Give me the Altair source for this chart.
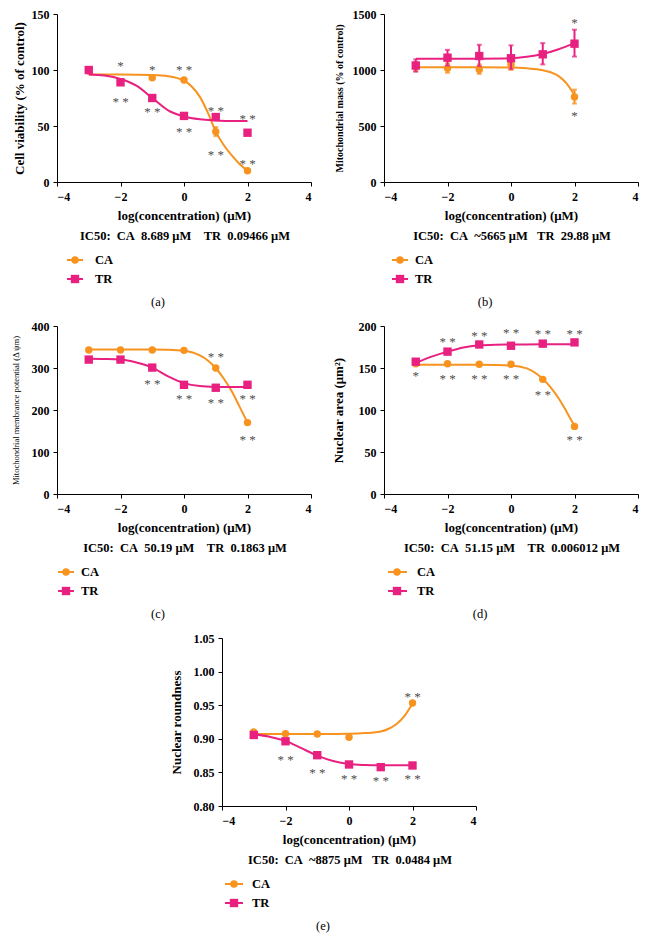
import altair as alt
import pandas as pd

ORANGE = "#F7931E"
PINK = "#E8207F"
STAR = "#4d4d4d"
FONT = "Liberation Serif"
NB = "\u00a0"

X_TICKS = [-4, -2, 0, 2, 4]

# ---------------- panel (a) cell viability ----------------
A_CA_X = [-3, -1, 0, 1, 2]
A_CA_Y = [99, 93, 91, 45, 10]
A_CA_LO = [None, None, None, 41, None]
A_CA_HI = [None, None, None, 49, None]
A_TR_X = [-3, -2, -1, 0, 1, 2]
A_TR_Y = [100, 89, 75, 59, 58, 44]
A_CAC_X = [-3, -2, -1, -0.5, 0, 0.25, 0.5, 0.75, 1, 1.25, 1.5, 1.75, 2]
A_CAC_Y = [96, 96, 95.5, 94.5, 90.5, 85, 76, 62, 45, 33, 24, 16, 10]
A_TRC_X = [-3, -2.5, -2, -1.5, -1, -0.5, 0, 0.5, 1, 1.5, 2]
A_TRC_Y = [96, 95, 92, 86, 75, 64, 58.5, 56, 55, 54.5, 54.5]
A_STAR_X = [-2, -2, -1, -1, 0, 0, 1, 1, 2, 2]
A_STAR_Y = [106, 74, 103, 65, 103, 47, 66, 27, 59, 19]
A_STAR_T = ["*", "* *", "*", "* *", "* *", "* *", "* *", "* *", "* *", "* *"]

# ---------------- panel (b) mitochondrial mass ----------------
B_CA_X = [-3, -2, -1, 0, 2]
B_CA_Y = [1030, 1015, 1005, 1050, 760]
B_CA_LO = [990, 975, 965, 1000, 700]
B_CA_HI = [1070, 1060, 1050, 1095, 825]
B_TR_X = [-3, -2, -1, 0, 1, 2]
B_TR_Y = [1040, 1110, 1125, 1105, 1140, 1235]
B_TR_LO = [985, 1040, 1035, 1010, 1050, 1120]
B_TR_HI = [1095, 1180, 1225, 1220, 1240, 1360]
B_CAC_X = [-3, -2, -1, 0, 0.5, 1, 1.25, 1.5, 1.75, 2]
B_CAC_Y = [1025, 1025, 1025, 1022, 1015, 998, 980, 945, 880, 775]
B_TRC_X = [-3, -2, -1, 0, 0.5, 1, 1.5, 2]
B_TRC_Y = [1100, 1100, 1101, 1105, 1118, 1143, 1185, 1240]
B_STAR_X = [2, 2]
B_STAR_Y = [1447, 612]
B_STAR_T = ["*", "*"]

# ---------------- panel (c) mitochondrial membrane potential ----------------
C_CA_X = [-3, -2, -1, 0, 1, 2]
C_CA_Y = [343, 343, 343, 342, 300, 170]
C_TR_X = [-3, -2, -1, 0, 1, 2]
C_TR_Y = [320, 320, 301, 260, 253, 260]
C_CAC_X = [-3, -2, -1, -0.5, 0, 0.5, 0.75, 1, 1.25, 1.5, 1.75, 2]
C_CAC_Y = [344, 344, 344, 343.5, 341, 330, 318, 300, 275, 245, 208, 170]
C_TRC_X = [-3, -2.5, -2, -1.5, -1, -0.5, 0, 0.5, 1, 1.5, 2]
C_TRC_Y = [322, 321.5, 320, 313, 301, 280, 264, 257, 255, 254.5, 254.5]
C_STAR_X = [-1, 0, 1, 1, 2, 2]
C_STAR_Y = [270, 233, 334, 225, 233, 136]
C_STAR_T = ["* *"] * 6

# ---------------- panel (d) nuclear area ----------------
D_CA_X = [-3, -2, -1, 0, 1, 2]
D_CA_Y = [155, 155, 154.5, 154.5, 136.5, 80.5]
D_TR_X = [-3, -2, -1, 0, 1, 2]
D_TR_Y = [157.5, 169.5, 178, 176.5, 179, 180.5]
D_CAC_X = [-3, -2, -1, 0, 0.5, 1, 1.25, 1.5, 1.75, 2]
D_CAC_Y = [154, 154, 153.8, 153, 149.5, 137, 127, 114, 98, 81]
D_TRC_X = [-3, -2.5, -2, -1.5, -1, -0.5, 0, 1, 2]
D_TRC_Y = [156, 163.5, 169.5, 174.5, 177, 177.8, 178, 178.2, 178.3]
D_STAR_X = [-3, -2, -2, -1, -1, 0, 0, 1, 1, 2, 2]
D_STAR_Y = [144.5, 184, 140.5, 192, 140, 195, 140, 194, 121, 194, 68]
D_STAR_T = ["*"] + ["* *"] * 10

# ---------------- panel (e) nuclear roundness ----------------
E_CA_X = [-3, -2, -1, 0, 2]
E_CA_Y = [0.910, 0.9077, 0.9072, 0.9023, 0.9532]
E_TR_X = [-3, -2, -1, 0, 1, 2]
E_TR_Y = [0.9057, 0.8963, 0.8756, 0.8618, 0.8578, 0.8603]
E_CAC_X = [-3, -2, -1, 0, 0.5, 1, 1.25, 1.5, 1.75, 2]
E_CAC_Y = [0.907, 0.907, 0.907, 0.9075, 0.9085, 0.911, 0.915, 0.922, 0.934, 0.9525]
E_TRC_X = [-3, -2.5, -2, -1.5, -1, -0.5, 0, 0.5, 1, 2]
E_TRC_Y = [0.907, 0.903, 0.897, 0.886, 0.875, 0.867, 0.8625, 0.861, 0.8605, 0.8605]
E_STAR_X = [2, -2, -1, 0, 1, 2]
E_STAR_Y = [0.967, 0.873, 0.8534, 0.845, 0.842, 0.845]
E_STAR_T = ["* *"] * 6

IC50_TEXTS = [
    "IC50:  CA  8.689 μM    TR  0.09466 μM",
    "IC50:  CA  ~5665 μM   TR  29.88 μM",
    "IC50:  CA  50.19 μM    TR  0.1863 μM",
    "IC50:  CA  51.15 μM    TR  0.006012 μM",
    "IC50:  CA  ~8875 μM   TR  0.0484 μM",
]

W = 254
H = 168

AXIS_STYLE = dict(domainColor="black", tickColor="black", tickSize=4, grid=False,
                  labelFont=FONT, labelFontWeight="bold", labelFontSize=12, labelColor="black",
                  titleFont=FONT, titleColor="black")


def nb(s):
    return s.replace(" ", NB)


def legend_layers(leg):
    l0, l1, lm, tx, y_ca, y_tr = leg
    base = alt.Chart(pd.DataFrame({"k": [0]}))
    layers = []
    for color, shape, size, y, name in [
        (ORANGE, "circle", 55, y_ca, "CA"),
        (PINK, "square", 70, y_tr, "TR"),
    ]:
        layers.append(base.mark_rule(color=color, strokeWidth=2).encode(
            x=alt.value(l0), x2=alt.value(l1), y=alt.value(y)))
        layers.append(base.mark_point(shape=shape, filled=True, size=size, color=color, opacity=1).encode(
            x=alt.value(lm), y=alt.value(y)))
        layers.append(base.mark_text(align="left", baseline="middle", font=FONT, fontWeight="bold",
                                     fontSize=12.5, fill="black").encode(
            x=alt.value(tx), y=alt.value(y), text=alt.value(name)))
    return layers


def panel(ca, tr, cac, trc, stars, ydom, yticks, yfmt, ytitle, ytsize, ytweight, ytitlex,
          ic50, label, leg, ca_err=None, tr_err=None, label_x=101):
    xscale = alt.Scale(domain=[-4, 4], nice=False)
    xaxis = alt.Axis(values=X_TICKS, title="log(concentration) (μM)", titleY=33,
                     titleBaseline="middle", titleFontSize=13, titleFontWeight="bold",
                     labelPadding=5, **AXIS_STYLE)
    yscale = alt.Scale(domain=ydom, nice=False, zero=False)
    yaxis = alt.Axis(values=yticks, format=yfmt, title=ytitle, titleFontSize=ytsize,
                     titleFontWeight=ytweight, titleX=ytitlex, titleBaseline="middle",
                     labelPadding=4, **AXIS_STYLE)
    xenc = alt.X("x:Q", scale=xscale, axis=xaxis)
    yenc = alt.Y("y:Q", scale=yscale, axis=yaxis)
    layers = []
    ca_df = pd.DataFrame({"x": ca[0], "y": ca[1]})
    tr_df = pd.DataFrame({"x": tr[0], "y": tr[1]})
    cac_df = pd.DataFrame({"x": cac[0], "y": cac[1]})
    trc_df = pd.DataFrame({"x": trc[0], "y": trc[1]})
    layers.append(alt.Chart(cac_df).mark_line(color=ORANGE, strokeWidth=2, interpolate="monotone").encode(x=xenc, y=yenc))
    if ca_err is not None:
        e = pd.DataFrame({"x": ca[0], "lo": ca_err[0], "hi": ca_err[1]}).dropna()
        layers.append(alt.Chart(e).mark_errorbar(ticks=True, color=ORANGE, thickness=2).encode(
            x=xenc, y=alt.Y("lo:Q", scale=yscale, axis=yaxis, title=ytitle), y2="hi:Q"))
    layers.append(alt.Chart(ca_df).mark_point(shape="circle", filled=True, size=55, color=ORANGE, opacity=1).encode(x=xenc, y=yenc))
    layers.append(alt.Chart(trc_df).mark_line(color=PINK, strokeWidth=2, interpolate="monotone").encode(x=xenc, y=yenc))
    if tr_err is not None:
        e = pd.DataFrame({"x": tr[0], "lo": tr_err[0], "hi": tr_err[1]}).dropna()
        layers.append(alt.Chart(e).mark_errorbar(ticks=True, color=PINK, thickness=2).encode(
            x=xenc, y=alt.Y("lo:Q", scale=yscale, axis=yaxis, title=ytitle), y2="hi:Q"))
    layers.append(alt.Chart(tr_df).mark_point(shape="square", filled=True, size=70, color=PINK, opacity=1).encode(x=xenc, y=yenc))
    st_df = pd.DataFrame({"x": stars[0], "y": stars[1], "t": [nb(t) for t in stars[2]]})
    layers.append(alt.Chart(st_df).mark_text(font=FONT, fontSize=13, fill=STAR, baseline="middle", dy=3).encode(
        x=xenc, y=yenc, text="t:N"))
    one = alt.Chart(pd.DataFrame({"k": [0]}))
    layers.append(one.mark_text(font=FONT, fontSize=12.5, fontWeight="bold", fill="black", align="center",
                                baseline="middle").encode(x=alt.value(128), y=alt.value(222), text=alt.value(nb(ic50))))
    layers.append(one.mark_text(font=FONT, fontSize=12.5, fill="black", align="center",
                                baseline="middle").encode(x=alt.value(label_x), y=alt.value(288), text=alt.value(label)))
    layers += legend_layers(leg)
    return alt.layer(*layers).properties(width=W, height=H)


pa = panel((A_CA_X, A_CA_Y), (A_TR_X, A_TR_Y), (A_CAC_X, A_CAC_Y), (A_TRC_X, A_TRC_Y),
           (A_STAR_X, A_STAR_Y, A_STAR_T), [0, 150], [0, 50, 100, 150], "d",
           "Cell viability (% of control)", 13, "bold", -38,
           IC50_TEXTS[0], "(a)", (10, 26, 18, 38, 246, 265),
           ca_err=(A_CA_LO, A_CA_HI))
pb = panel((B_CA_X, B_CA_Y), (B_TR_X, B_TR_Y), (B_CAC_X, B_CAC_Y), (B_TRC_X, B_TRC_Y),
           (B_STAR_X, B_STAR_Y, B_STAR_T), [0, 1500], [0, 500, 1000, 1500], "d",
           "Mitochondrial mass (% of control)", 10, "bold", -45,
           IC50_TEXTS[1], "(b)", (8, 24, 16, 31, 246, 265),
           ca_err=(B_CA_LO, B_CA_HI), tr_err=(B_TR_LO, B_TR_HI))
pc = panel((C_CA_X, C_CA_Y), (C_TR_X, C_TR_Y), (C_CAC_X, C_CAC_Y), (C_TRC_X, C_TRC_Y),
           (C_STAR_X, C_STAR_Y, C_STAR_T), [0, 400], [0, 100, 200, 300, 400], "d",
           "Mitochondrial membrance potential (Δ ψm)", 8.5, "normal", -42,
           IC50_TEXTS[2], "(c)", (1, 17, 9, 24, 246, 265))
pd_ = panel((D_CA_X, D_CA_Y), (D_TR_X, D_TR_Y), (D_CAC_X, D_CAC_Y), (D_TRC_X, D_TRC_Y),
            (D_STAR_X, D_STAR_Y, D_STAR_T), [0, 200], [0, 50, 100, 150, 200], "d",
            "Nuclear area (μm²)", 13, "bold", -46,
            IC50_TEXTS[3], "(d)", (4, 23, 13, 33, 246, 265), label_x=96)
pe = panel((E_CA_X, E_CA_Y), (E_TR_X, E_TR_Y), (E_CAC_X, E_CAC_Y), (E_TRC_X, E_TRC_Y),
           (E_STAR_X, E_STAR_Y, E_STAR_T), [0.80, 1.05], [0.80, 0.85, 0.90, 0.95, 1.00, 1.05], ".2f",
           "Nuclear roundness", 13, "bold", -46,
           IC50_TEXTS[4], "(e)", (3, 21, 12, 30, 246, 265))

spacer = alt.Chart(pd.DataFrame({"v": [0]})).mark_point(opacity=0).encode(
    x=alt.X("v:Q", axis=None), y=alt.Y("v:Q", axis=None)).properties(width=145, height=H)

row1 = alt.hconcat(pa, pb, spacing=73, bounds="flush")
row2 = alt.hconcat(pc, pd_, spacing=73, bounds="flush")
row3 = alt.hconcat(spacer, pe, spacing=20, bounds="flush")

chart = alt.vconcat(row1, row2, row3, spacing=312, bounds="flush").properties(
    padding={"left": 2, "top": 0, "right": 0, "bottom": 0}
).configure_view(stroke=None)

chart.save("out.html", embed_options={"renderer": "svg", "actions": False})
